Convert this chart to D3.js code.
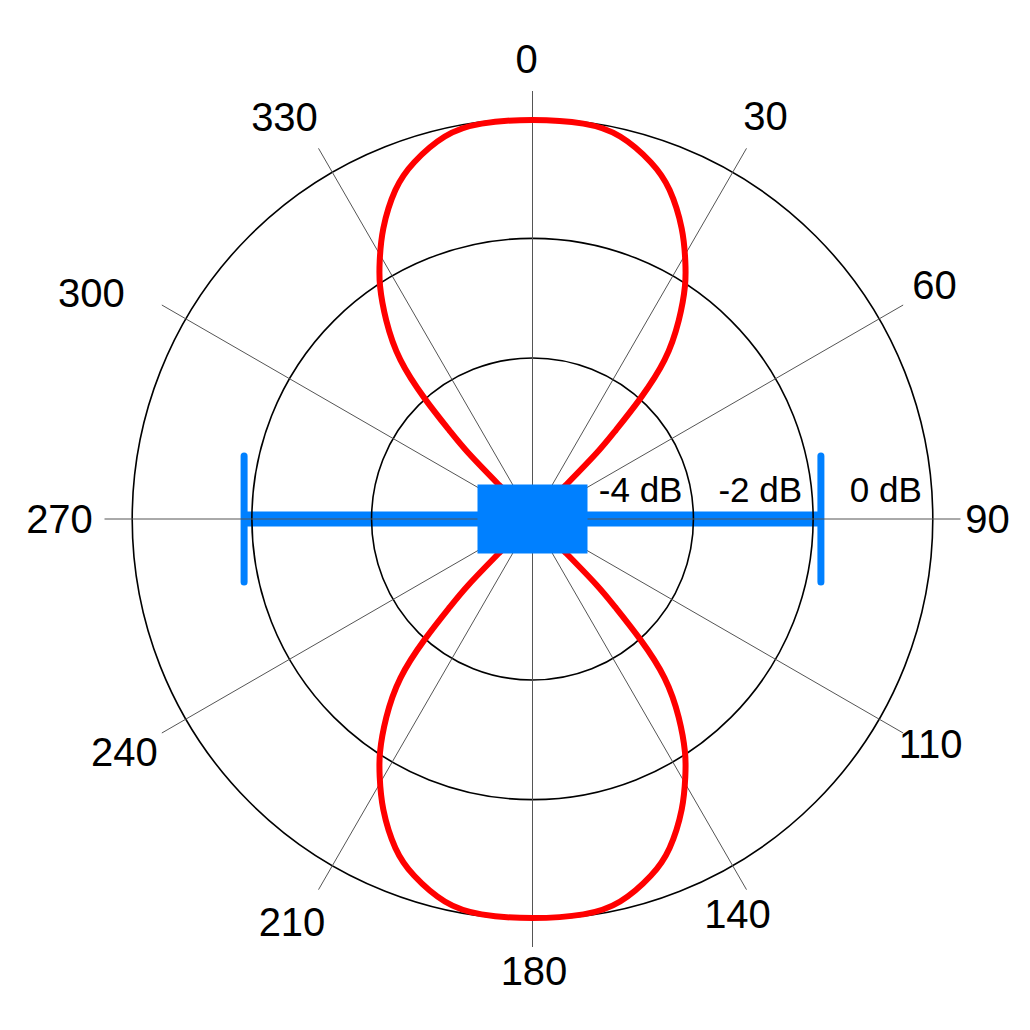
<!DOCTYPE html>
<html><head><meta charset="utf-8">
<script src="https://cdn.jsdelivr.net/npm/d3@7"></script>
<style>body{margin:0;background:#fff}svg{display:block}</style>
</head><body><svg id="chart" width="1030" height="1030"></svg>
<script>
// ---- data ----
const spokeAngles = [0, 30, 60, 90, 120, 150, 180, 210, 240, 270, 300, 330];
const spokeLabels = ["0", "30", "60", "90", "110", "140", "180", "210", "240", "270", "300", "330"];
const ringDb = [-4, -2, 0];
const ringLabels = ["-4 dB", "-2 dB", "0 dB"];
// one half-lobe (angle from lobe axis, level in dB)
const lobeAngles = [0, 7.8, 12.8, 18.8, 22.5, 27.6, 30.9, 33.1, 36.5, 40.2, 42.1, 43.3, 44.4, 44.6, 45];
const lobeDb = [0, 0, -0.08, -0.41, -0.68, -1.24, -1.71, -1.99, -2.55, -3.21, -4.01, -4.72, -5.08, -5.88, -6.69];
const lobeAxes = [0, 180];
const beamAngles = [270, 90];
const beamDb = -1.87;
const dbMin = -6.69, dbMax = 0;

// ---- layout ----
const cx = 532.5, cy = 519, R = 400.3;
const svg = d3.select("#chart");
const g = svg.append("g").attr("transform", `translate(${cx},${cy})`);
const r = d3.scaleLinear().domain([dbMin, dbMax]).range([0, R]);
const rad = d => d * Math.PI / 180;
const px = (a, rr) => rr * Math.sin(rad(a));
const py = (a, rr) => -rr * Math.cos(rad(a));
const blue = "#0080ff";
const font = "'Liberation Sans', Arial, Helvetica, sans-serif";

// beam bar (below grid)
const bx0 = px(beamAngles[0], r(beamDb)), bx1 = px(beamAngles[1], r(beamDb));
g.append("line").attr("x1", bx0).attr("x2", bx1).attr("y1", 0).attr("y2", 0)
  .attr("stroke", blue).attr("stroke-width", 15);
beamAngles.forEach(a => {
  const x = px(a, r(beamDb));
  g.append("line").attr("x1", x).attr("x2", x).attr("y1", -63).attr("y2", 63)
    .attr("stroke", blue).attr("stroke-width", 7).attr("stroke-linecap", "round");
});

// rings
g.selectAll("circle.ring").data(ringDb).join("circle").attr("class", "ring")
  .attr("r", d => r(d)).attr("fill", "none").attr("stroke", "#000").attr("stroke-width", 1.6);

// spokes
const spokeLen = 428;
g.selectAll("line.spoke").data(spokeAngles).join("line").attr("class", "spoke")
  .attr("x1", 0).attr("y1", 0)
  .attr("x2", d => px(d, spokeLen)).attr("y2", d => py(d, spokeLen))
  .attr("stroke", "#555").attr("stroke-width", 1);

// pattern lobes
const line = d3.lineRadial()
  .angle(d => rad(d[0])).radius(d => r(d[1]))
  .curve(d3.curveBasis);
lobeAxes.forEach(axis => {
  const pts = [];
  for (let i = lobeAngles.length - 1; i >= 0; i--) pts.push([axis - lobeAngles[i], lobeDb[i]]);
  for (let i = 1; i < lobeAngles.length; i++) pts.push([axis + lobeAngles[i], lobeDb[i]]);
  g.append("path").attr("d", line(pts)).attr("fill", "none")
    .attr("stroke", "#ff0000").attr("stroke-width", 6).attr("stroke-linejoin", "round");
});

// centre block
g.append("rect").attr("x", -55).attr("y", -34.5).attr("width", 110).attr("height", 69).attr("fill", blue);

// ring labels
g.selectAll("text.db").data(ringDb).join("text").attr("class", "db")
  .attr("x", d => r(d) - 11).attr("y", -17.5)
  .attr("text-anchor", "end").attr("font-family", font).attr("font-size", 35)
  .attr("fill", "#000").text((d, i) => ringLabels[i]);

// angle labels
const nudge = {"0": [-6, 2], "30": [2, -3], "60": [2, -3], "90": [-7, 0], "110": [-2, -6], "140": [-26, -6],
  "180": [1.5, -10], "210": [-9.5, 2], "240": [-8, 2], "270": [-11, 0], "300": [-41, 5], "330": [-17, -2]};
const labR = 462;
g.selectAll("text.ang").data(spokeAngles).join("text").attr("class", "ang")
  .attr("x", (d, i) => px(d, labR) + nudge[spokeLabels[i]][0])
  .attr("y", (d, i) => py(d, labR) + nudge[spokeLabels[i]][1])
  .attr("dy", "0.36em")
  .attr("text-anchor", "middle").attr("font-family", font).attr("font-size", 40)
  .attr("fill", "#000").text((d, i) => spokeLabels[i]);
</script></body></html>
